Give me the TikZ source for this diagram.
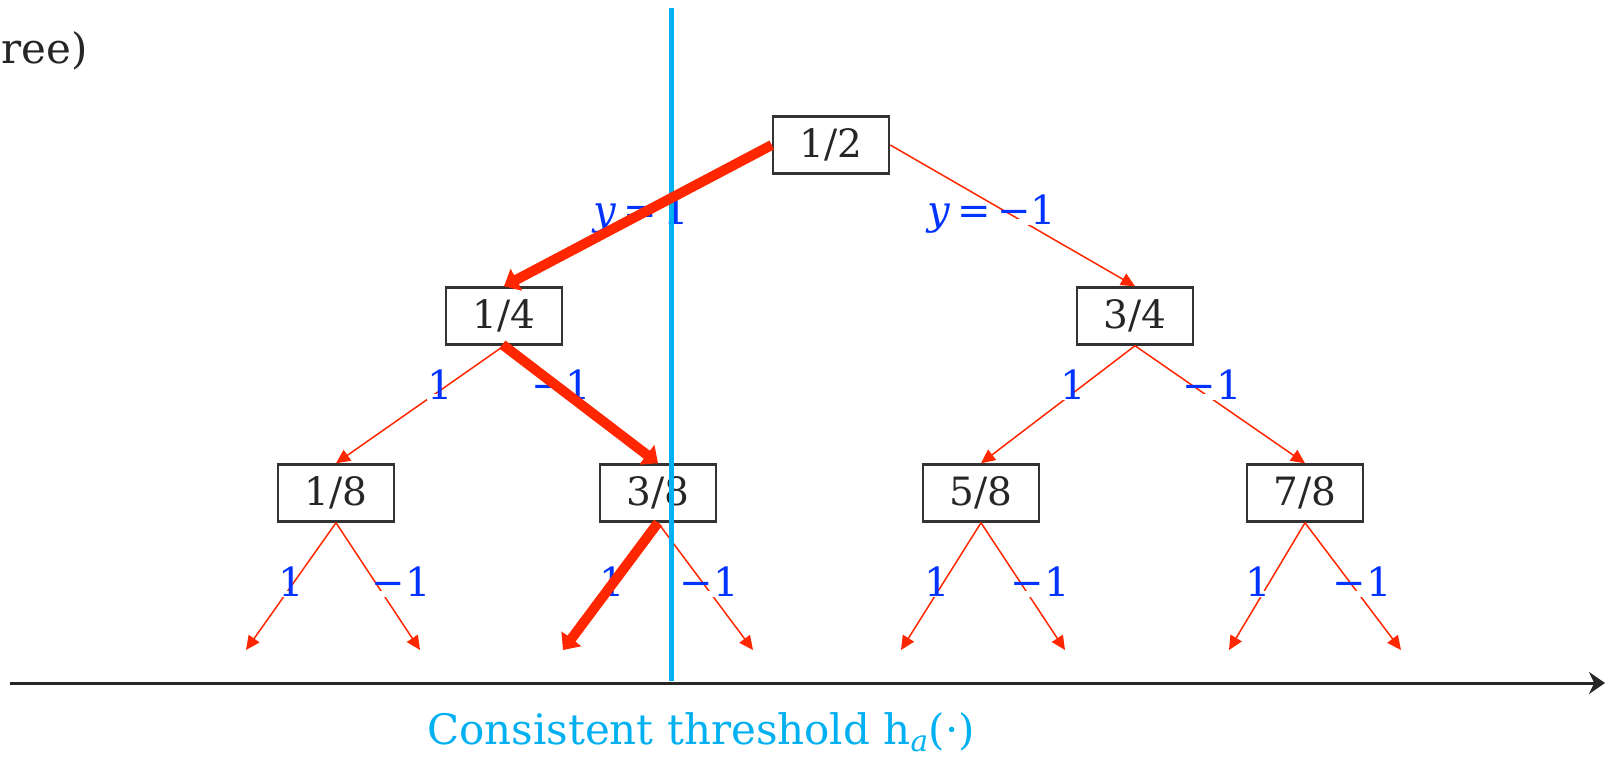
\documentclass[tikz,border=0pt]{standalone}
\usepackage{fontspec}
\setmainfont{DejaVu Serif}
\usetikzlibrary{arrows.meta}
\definecolor{edgered}{RGB}{255,38,0}
\definecolor{lblue}{RGB}{0,51,255}
\definecolor{hcyan}{RGB}{0,176,240}
\definecolor{boxgray}{RGB}{51,51,51}
\begin{document}
\begin{tikzpicture}[x=1pt,y=-1pt]
	\tikzset{>={Triangle[length=14pt,width=13pt]}}
	\tikzset{frac/.style={draw=boxgray,line width=2.5pt,minimum width=116pt,minimum height=57pt,inner sep=0pt,text=black!85,font=\fontsize{39}{45}\selectfont}}
	\tikzset{lbl/.style={fill=white,inner sep=0pt,text height=0.55em,text depth=0pt,text=lblue,font=\fontsize{40}{46}\selectfont}}
	\tikzset{edge/.style={->,edgered,line width=1.5pt}}
	\tikzset{chosen/.style={-{Triangle[length=14pt,width=24pt]},edgered,line width=10pt}}
	\useasboundingbox (0,0) rectangle (1606,761);

	\node[anchor=base west,inner sep=0pt,text=black!85,font=\fontsize{42}{48}\selectfont] (title) at (1,63) {ree)};

	% the tree
	\node[frac] (half) at (831,145) {1/2};
	\node[frac] (q1) at (504,316) {1/4};
	\node[frac] (q3) at (1135,316) {3/4};
	\node[frac] (e1) at (336,493) {1/8};
	\node[frac] (e3) at (658,493) {3/8};
	\node[frac] (e5) at (981,493) {5/8};
	\node[frac] (e7) at (1305,493) {7/8};

	\coordinate (l1) at (246,650);
	\coordinate (l2) at (420,650);
	\coordinate (l3) at (563,650);
	\coordinate (l4) at (753,650);
	\coordinate (l5) at (901,650);
	\coordinate (l6) at (1065,650);
	\coordinate (l7) at (1229,650);
	\coordinate (l8) at (1401,650);

	\draw[edge] (half.west)--(q1.north);
	\draw[edge] (half.east)--(q3.north);
	\draw[edge] (q1.south)--(e1.north);
	\draw[edge] (q1.south)--(e3.north);
	\draw[edge] (q3.south)--(e5.north);
	\draw[edge] (q3.south)--(e7.north);
	\draw[edge] (e1.south)--(l1);
	\draw[edge] (e1.south)--(l2);
	\draw[edge] (e3.south)--(l3);
	\draw[edge] (e3.south)--(l4);
	\draw[edge] (e5.south)--(l5);
	\draw[edge] (e5.south)--(l6);
	\draw[edge] (e7.south)--(l7);
	\draw[edge] (e7.south)--(l8);

	% labels
	\node[lbl] (yl) at (641,222) {\textit{y}\,=\,1};
	\node[lbl] (yr) at (992,222) {\textit{y}\,=\,−1};
	\node[lbl] (a1) at (440,397) {1};
	\node[lbl] (a2) at (561,397) {−1};
	\node[lbl] (a3) at (1073,397) {1};
	\node[lbl] (a4) at (1212,397) {−1};
	\node[lbl] (b1) at (291,594) {1};
	\node[lbl] (b2) at (401,594) {−1};
	\node[lbl] (b3) at (612,594) {1};
	\node[lbl] (b4) at (709,594) {−1};
	\node[lbl] (b5) at (937,594) {1};
	\node[lbl] (b6) at (1040,594) {−1};
	\node[lbl] (b7) at (1258,594) {1};
	\node[lbl] (b8) at (1362,594) {−1};

	% the path that is taken
	\draw[chosen,shorten <=-2pt] (q1.south)--(e3.north);
	\draw[chosen] (e3.south)--(l3);

	% axis and threshold
	\coordinate (axl) at (10,683);
	\coordinate (axr) at (1605,683);
	\draw[-{Stealth[length=16pt,width=22pt]},black!85,line width=3pt] (axl)--(axr);
	\coordinate (th) at (671,8);
	\coordinate (tb) at (671,681);
	\draw[hcyan,line width=5pt] (th)--(tb);
	\draw[chosen] (half.west)--(q1.north);
	\node[text=hcyan,font=\fontsize{42}{48}\selectfont] (hlabel) at (701,732) {Consistent threshold h\textsubscript{\textit{a}}(·)};
\end{tikzpicture}
\end{document}
